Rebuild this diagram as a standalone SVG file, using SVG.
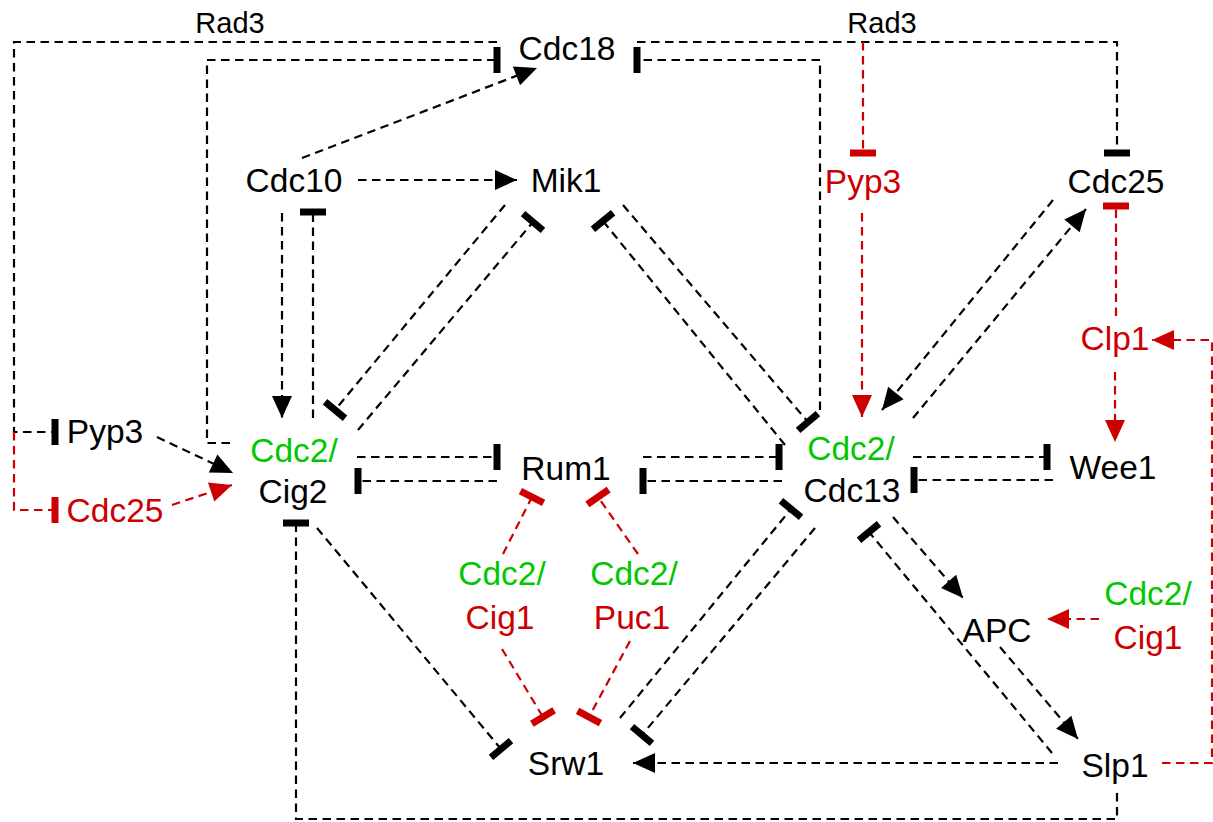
<svg xmlns="http://www.w3.org/2000/svg" width="1213" height="822" viewBox="0 0 1213 822">
  <style>
    text { font-family: "Liberation Sans", Arial, Helvetica, sans-serif; font-size: 33.5px; text-anchor: middle; fill: #000; }
    .small { font-size: 29px; }
    .g { fill: #00c800; }
    .r { fill: #cc0000; }
    .ln { fill: none; stroke: #000; stroke-width: 2.2; stroke-dasharray: 8.5 5.5; }
    .ln.red { stroke: #cc0000; }
  </style>
  <defs>
    <marker id="arr" viewBox="0 0 22 20" refX="22" refY="10" markerWidth="22" markerHeight="20" markerUnits="userSpaceOnUse" orient="auto" overflow="visible">
      <path d="M0,0 L22,10 L0,20 Z" fill="#000"/>
    </marker>
    <marker id="arrR" viewBox="0 0 22 20" refX="22" refY="10" markerWidth="22" markerHeight="20" markerUnits="userSpaceOnUse" orient="auto" overflow="visible">
      <path d="M0,0 L22,10 L0,20 Z" fill="#cc0000"/>
    </marker>
    <marker id="bar" viewBox="-3.5 -13 7 26" refX="0" refY="0" markerWidth="7" markerHeight="26" markerUnits="userSpaceOnUse" orient="auto" overflow="visible">
      <rect x="-3.5" y="-13" width="7" height="26" fill="#000"/>
    </marker>
    <marker id="barR" viewBox="-3.5 -13 7 26" refX="0" refY="0" markerWidth="7" markerHeight="26" markerUnits="userSpaceOnUse" orient="auto" overflow="visible">
      <rect x="-3.5" y="-13" width="7" height="26" fill="#cc0000"/>
    </marker>
  </defs>

  <!-- connectors -->
  <g id="connectors">
    <!-- Rad3 loops -->
    <path class="ln" d="M497,42 H14 V432 H55" marker-end="url(#bar)"/>
    <path class="ln red" d="M14,432 V510 H55" marker-end="url(#barR)"/>
    <path class="ln" d="M637,42 H1117 V153" marker-end="url(#bar)"/>
    <path class="ln red" d="M863,42 V153" marker-end="url(#barR)"/>
    <!-- Cdc18 regulation -->
    <path class="ln" d="M230,443 H207 V60 H497" marker-end="url(#bar)"/>
    <path class="ln" d="M820,410 V60 H637" marker-end="url(#bar)"/>
    <path class="ln" d="M302,158 L537,68" marker-end="url(#arr)"/>
    <!-- Cdc10 -->
    <path class="ln" d="M358,180 H517" marker-end="url(#arr)"/>
    <path class="ln" d="M282,213 V418" marker-end="url(#arr)"/>
    <path class="ln" d="M313,418 V212" marker-end="url(#bar)"/>
    <!-- Mik1 -->
    <path class="ln" d="M505,205 L335,410" marker-end="url(#bar)"/>
    <path class="ln" d="M358,430 L533,222" marker-end="url(#bar)"/>
    <path class="ln" d="M785,445 L603,221" marker-end="url(#bar)"/>
    <path class="ln" d="M623,205 L808,422" marker-end="url(#bar)"/>
    <!-- Cdc25 / Pyp3 / Clp1 -->
    <path class="ln" d="M1053,200 L882,410" marker-end="url(#arr)"/>
    <path class="ln" d="M913,418 L1086,209" marker-end="url(#arr)"/>
    <path class="ln red" d="M862,213 V417" marker-end="url(#arrR)"/>
    <path class="ln red" d="M1116,316 V206" marker-end="url(#barR)"/>
    <path class="ln red" d="M1115,372 V442" marker-end="url(#arrR)"/>
    <path class="ln red" d="M1162,763 H1212 V340 H1152" marker-end="url(#arrR)"/>
    <!-- inputs to Cdc2/Cig2 -->
    <path class="ln" d="M157,437 L233,473" marker-end="url(#arr)"/>
    <path class="ln red" d="M172,505 L232,485" marker-end="url(#arrR)"/>
    <!-- Rum1 -->
    <path class="ln" d="M357,457 H497" marker-end="url(#bar)"/>
    <path class="ln" d="M497,481 H358" marker-end="url(#bar)"/>
    <path class="ln" d="M643,457 H779" marker-end="url(#bar)"/>
    <path class="ln" d="M782,481 H643" marker-end="url(#bar)"/>
    <!-- Wee1 -->
    <path class="ln" d="M913,457 H1047" marker-end="url(#bar)"/>
    <path class="ln" d="M1053,480 H914" marker-end="url(#bar)"/>
    <!-- Cig1 / Puc1 complexes -->
    <path class="ln red" d="M503,554 L532,497" marker-end="url(#barR)"/>
    <path class="ln red" d="M638,554 L598,497" marker-end="url(#barR)"/>
    <path class="ln red" d="M502,649 L543,717" marker-end="url(#barR)"/>
    <path class="ln red" d="M630,641 L589,717" marker-end="url(#barR)"/>
    <!-- Srw1 -->
    <path class="ln" d="M317,528 L501,749" marker-end="url(#bar)"/>
    <path class="ln" d="M620,718 L791,509" marker-end="url(#bar)"/>
    <path class="ln" d="M815,528 L642,735" marker-end="url(#bar)"/>
    <path class="ln" d="M1058,763 H633" marker-end="url(#arr)"/>
    <!-- APC / Slp1 -->
    <path class="ln" d="M1117,793 V819 H296 V523" marker-end="url(#bar)"/>
    <path class="ln" d="M893,517 L963,598" marker-end="url(#arr)"/>
    <path class="ln" d="M1052,753 L869,532" marker-end="url(#bar)"/>
    <path class="ln" d="M1000,647 L1078,739" marker-end="url(#arr)"/>
    <path class="ln red" d="M1099,619 H1047" marker-end="url(#arrR)"/>
  </g>

  <!-- nodes -->
  <g id="rad3-left"><text class="small" x="230" y="33">Rad3</text></g>
  <g id="rad3-right"><text class="small" x="882" y="33">Rad3</text></g>
  <g id="cdc18"><text x="567" y="60">Cdc18</text></g>
  <g id="cdc10"><text x="294" y="192">Cdc10</text></g>
  <g id="mik1"><text x="566" y="192">Mik1</text></g>
  <g id="pyp3-top"><text class="r" x="863" y="193">Pyp3</text></g>
  <g id="cdc25-top"><text x="1116" y="193">Cdc25</text></g>
  <g id="clp1"><text class="r" x="1115" y="350">Clp1</text></g>
  <g id="pyp3-left"><text x="105" y="443">Pyp3</text></g>
  <g id="cdc25-left"><text class="r" x="115" y="522">Cdc25</text></g>
  <g id="cdc2-cig2"><text class="g" x="294" y="462">Cdc2/</text><text x="293" y="503">Cig2</text></g>
  <g id="rum1"><text x="566" y="480">Rum1</text></g>
  <g id="cdc2-cdc13"><text class="g" x="851" y="460">Cdc2/</text><text x="852" y="502">Cdc13</text></g>
  <g id="wee1"><text x="1113" y="479">Wee1</text></g>
  <g id="cdc2-cig1-mid"><text class="g" x="502" y="585">Cdc2/</text><text class="r" x="500" y="629">Cig1</text></g>
  <g id="cdc2-puc1"><text class="g" x="634" y="585">Cdc2/</text><text class="r" x="632" y="629">Puc1</text></g>
  <g id="apc"><text x="997" y="642">APC</text></g>
  <g id="cdc2-cig1-right"><text class="g" x="1148" y="605">Cdc2/</text><text class="r" x="1148" y="649">Cig1</text></g>
  <g id="slp1"><text x="1115" y="777">Slp1</text></g>
  <g id="srw1"><text x="566" y="775">Srw1</text></g>
</svg>
